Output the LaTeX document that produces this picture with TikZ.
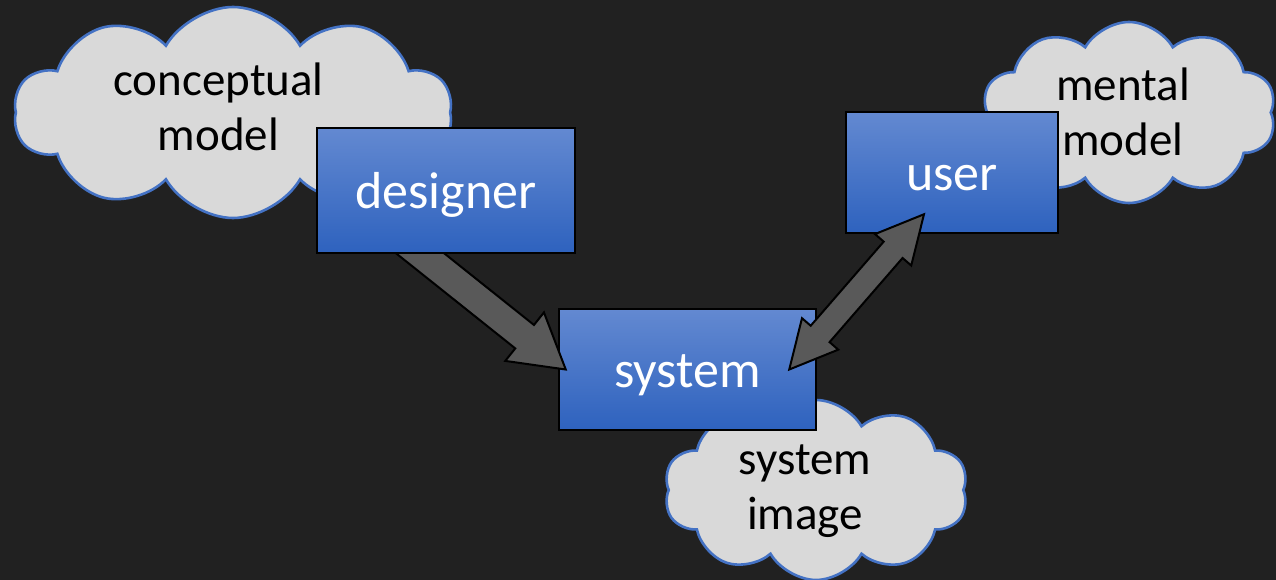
\documentclass[tikz,border=0pt]{standalone}
\usepackage{fontspec}
\setmainfont{Carlito}
\usetikzlibrary{shapes.symbols,shapes.arrows,calc}
\definecolor{bgdark}{HTML}{212121}
\definecolor{cloudfill}{HTML}{D9D9D9}
\definecolor{cloudline}{HTML}{4472C4}
\definecolor{boxtop}{HTML}{6389D1}
\definecolor{boxbottom}{HTML}{2E62BE}
\definecolor{arrowgray}{HTML}{595959}
\pgfdeclarelayer{top}
\pgfsetlayers{main,top}

\begin{document}
\begin{tikzpicture}[x=1pt,y=-1pt,
    thought/.style={cloud, cloud puffs=10, cloud puff arc=120, cloud ignores aspect,
      draw=cloudline, fill=cloudfill, line width=2.6pt, inner sep=0pt},
    thoughttext/.style={font=\fontsize{47}{55}\selectfont, align=center, text=black},
    actor/.style={draw=black, line width=2.5pt, top color=boxtop, bottom color=boxbottom,
      text=white, font=\fontsize{52}{60}\selectfont, inner sep=0pt,
      text height=45pt, text depth=10pt},
    fatarrow/.style={single arrow, draw=black, fill=arrowgray, line width=2pt,
      inner xsep=0pt, inner ysep=14pt, single arrow head extend=16pt,
      single arrow tip angle=61, outer sep=0pt},
    twoarrow/.style={double arrow, draw=black, fill=arrowgray, line width=2pt,
      inner xsep=0pt, inner ysep=11.5pt, double arrow head extend=11.5pt,
      double arrow tip angle=54, outer sep=0pt}]
  \fill[bgdark] (0,0) rectangle (1276,580);
  \useasboundingbox (0,0) rectangle (1276,580);

  % clouds
  \node[thought, minimum width=438pt, minimum height=211pt] (cmcloud) at (233,112.5) {};
  \node[thoughttext] (cmtext) at (218.5,107) {conceptual\\model};
  \node[thought, minimum width=294pt, minimum height=181pt] (mmcloud) at (1129,112.5) {};
  \node[thoughttext] (mmtext) at (1123,112) {mental\\model};
  \node[thought, minimum width=304pt, minimum height=180pt] (sicloud) at (816,490) {};
  \node[thoughttext] (sitext) at (805,491) {system\\image};

  % boxes
  \node[actor, minimum width=257pt, minimum height=121pt] (sys) at (687.5,369.5) {system};
  \node[actor, minimum width=212pt, minimum height=121pt] (usr) at (952,172.5) {user};
  \begin{pgfonlayer}{top}
    \node[actor, minimum width=258pt, minimum height=125pt] (des) at (446,190.5) {designer};
  \end{pgfonlayer}

  % arrows
  \coordinate (destail) at ($(des.south)+(-41,-13)$);
  \coordinate (systip) at ($(sys.west)+(8,0)$);
  \coordinate (sysend) at ($(sys.east)+(-28,0)$);
  \coordinate (usrend) at ($(usr.south)+(-28,-20)$);
  \path let \p1=($(systip)-(destail)$), \n1={veclen(\x1,\y1)} in
    (destail) -- (systip) node[fatarrow, pos=1, sloped, anchor=tip, minimum height=\n1] (dsarrow) {};
  \path let \p1=($(usrend)-(sysend)$), \n1={veclen(\x1,\y1)} in
    (sysend) -- (usrend) node[twoarrow, midway, sloped, minimum height=\n1] (suarrow) {};
\end{tikzpicture}
\end{document}
